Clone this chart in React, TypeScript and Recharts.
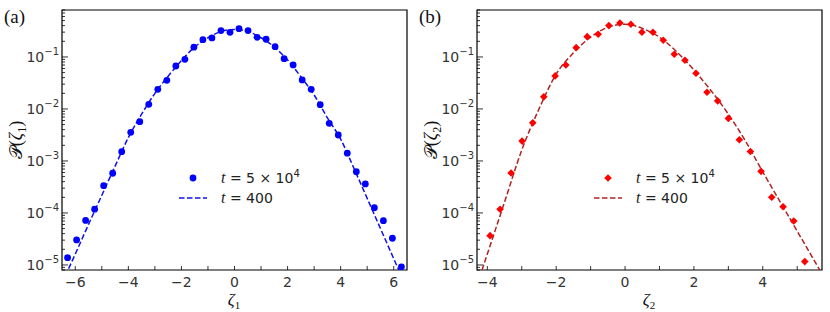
import React from "react";
import {
  ComposedChart,
  Scatter,
  Line,
  XAxis,
  YAxis,
  ReferenceArea,
  Legend,
} from "recharts";

// panel (a): zeta_1
const zeta1Points = [
  -6.29, -5.95, -5.61, -5.27, -4.93, -4.59, -4.25, -3.91, -3.57, -3.23, -2.89,
  -2.55, -2.21, -1.87, -1.53, -1.19, -0.85, -0.51, -0.17, 0.17, 0.51, 0.85,
  1.19, 1.53, 1.87, 2.21, 2.55, 2.89, 3.23, 3.57, 3.91, 4.25, 4.59, 4.93, 5.27,
  5.61, 5.95, 6.29,
];
const p1Points = [
  1.38e-5, 3.03e-5, 7.2e-5, 1.18e-4, 3.35e-4, 5.8e-4, 1.51e-3, 3.56e-3, 5.7e-3,
  1.23e-2, 2.39e-2, 3.56e-2, 6.7e-2, 9.0e-2, 0.154, 0.215, 0.232, 0.321, 0.298,
  0.35, 0.321, 0.239, 0.219, 0.158, 0.0927, 0.0702, 0.0361, 0.0239, 0.0121,
  5.3e-3, 3.16e-3, 1.41e-3, 6.2e-4, 3.61e-4, 1.26e-4, 7.1e-5, 3.26e-5, 9.2e-6,
];
const zeta1Line = [
  -6.5, -6, -5.5, -5, -4.5, -4, -3.5, -3, -2.5, -2, -1.5, -1, -0.5, 0, 0.5, 1,
  1.5, 2, 2.5, 3, 3.5, 4, 4.5, 5, 5.5, 6, 6.5,
];
const p1Line = [
  4.47e-6, 1.62e-5, 6.03e-5, 2.19e-4, 7.94e-4, 2.82e-3, 7.94e-3, 0.02, 0.0427,
  0.0851, 0.155, 0.234, 0.309, 0.339, 0.309, 0.234, 0.155, 0.0871, 0.0417,
  0.0186, 6.76e-3, 2.63e-3, 7.24e-4, 1.91e-4, 5.01e-5, 1.32e-5, 3.47e-6,
];

// panel (b): zeta_2
const zeta2Points = [
  -3.92, -3.63, -3.31, -2.99, -2.68, -2.36, -2.03, -1.72, -1.42, -1.1, -0.78,
  -0.47, -0.15, 0.17, 0.49, 0.81, 1.11, 1.43, 1.74, 2.06, 2.38, 2.69, 3.0, 3.32,
  3.64, 3.95, 4.26, 4.59, 4.9, 5.22,
];
const p2Points = [
  3.66e-5, 1.18e-4, 5.86e-4, 2.41e-3, 5.41e-3, 0.0171, 0.0432, 0.0701, 0.151,
  0.246, 0.273, 0.401, 0.45, 0.425, 0.298, 0.298, 0.209, 0.113, 0.0865, 0.0487,
  0.021, 0.0143, 6.58e-3, 2.55e-3, 1.52e-3, 6.31e-4, 2.0e-4, 1.32e-4, 7.0e-5,
  1.16e-5,
];
const zeta2Line = [
  -4.3, -4, -3.5, -3, -2.5, -2, -1.5, -1, -0.5, 0, 0.5, 1, 1.5, 2, 2.5, 3, 3.5,
  4, 4.5, 5, 5.5, 5.8,
];
const p2Line = [
  4.07e-6, 1.62e-5, 1.62e-4, 1.62e-3, 0.01, 0.0468, 0.12, 0.24, 0.372, 0.427,
  0.355, 0.24, 0.126, 0.0562, 0.0224, 7.94e-3, 2.4e-3, 6.17e-4, 1.66e-4,
  4.47e-5, 1.2e-5, 5.37e-6,
];

const xTicks1 = [-6, -5, -4, -3, -2, -1, 0, 1, 2, 3, 4, 5, 6];
const xTicks2 = [-4, -3, -2, -1, 0, 1, 2, 3, 4, 5];
const yDecades = [1e-5, 1e-4, 1e-3, 1e-2, 1e-1];
const yMinorSteps = [2, 3, 4, 5, 6, 7, 8, 9];
const yDomain: [number, number] = [8e-6, 0.8];

const zip = (xs: number[], ys: number[]) => xs.map((x, i) => ({ x, y: ys[i] }));

const yTicks = [
  8e-6,
  9e-6,
  ...yDecades.flatMap((d) => [d, ...yMinorSteps.map((m) => m * d)]),
].filter((v) => v >= yDomain[0] && v <= yDomain[1] * 1.0001);

const tickFont = "'DejaVu Sans', sans-serif";
const mathFont = "'Liberation Serif', 'DejaVu Serif', serif";

function YTick({ x, y, payload }: any) {
  const e = Math.log10(payload.value);
  const major = Math.abs(e - Math.round(e)) < 1e-6;
  return (
    <g>
      <line x1={x} x2={x + (major ? 6 : 3)} y1={y} y2={y} stroke="#000" strokeWidth={0.8} />
      {major && (
        <text x={x - 3} y={y} dy={5} textAnchor="end" fontSize={14} fill="#333" fontFamily={tickFont}>
          10
          <tspan dy={-7} fontSize={10}>
            {"\u2212" + -Math.round(e)}
          </tspan>
        </text>
      )}
    </g>
  );
}

function XTick({ x, y, payload }: any) {
  const v = payload.value;
  const labelled = v % 2 === 0;
  return (
    <g>
      <line x1={x} x2={x} y1={y} y2={y - 4} stroke="#000" strokeWidth={0.8} />
      {labelled && (
        <text x={x} y={y + 17} textAnchor="middle" fontSize={14} fill="#333" fontFamily={tickFont}>
          {v < 0 ? "\u2212" + -v : String(v)}
        </text>
      )}
    </g>
  );
}

function Marker({ cx, cy, kind, color }: any) {
  if (kind === "circle") return <circle cx={cx} cy={cy} r={3.4} fill={color} />;
  const h = 3.8;
  return (
    <polygon
      points={`${cx},${cy - h} ${cx + h},${cy} ${cx},${cy + h} ${cx - h},${cy}`}
      fill={color}
    />
  );
}

function LegendBox({ kind, color, lineColor }: any) {
  const row: React.CSSProperties = { display: "flex", alignItems: "center", height: 20 };
  return (
    <div style={{ fontFamily: tickFont, fontSize: 14, color: "#222", whiteSpace: "nowrap" }}>
      <div style={row}>
        <svg width={28} height={20}>
          <Marker cx={14} cy={10} kind={kind} color={color} />
        </svg>
        <span style={{ marginLeft: 14 }}>
          <i style={{ fontFamily: mathFont, fontSize: 16 }}>t</i> = 5 × 10
          <span style={{ fontSize: 10, position: "relative", top: -6 }}>4</span>
        </span>
      </div>
      <div style={row}>
        <svg width={28} height={20}>
          <line x1={0} x2={28} y1={10} y2={10} stroke={lineColor} strokeWidth={1.5} strokeDasharray="5.5 2.5" />
        </svg>
        <span style={{ marginLeft: 14 }}>
          <i style={{ fontFamily: mathFont, fontSize: 16 }}>t</i> = 400
        </span>
      </div>
    </div>
  );
}

function Panel({ points, line, xDomain, xTicks, kind, color, lineColor, tag, sub, left }: any) {
  return (
    <div style={{ position: "absolute", left, top: 0, width: 415, height: 312 }}>
      <ComposedChart width={415} height={312} margin={{ top: 10, right: 8, bottom: 12, left: 12 }}>
        <XAxis
          type="number"
          dataKey="x"
          domain={xDomain}
          allowDataOverflow
          ticks={xTicks}
          interval={0}
          axisLine={false}
          tickLine={false}
          tickSize={0}
          tickMargin={0}
          height={30}
          tick={<XTick />}
        />
        <YAxis
          type="number"
          dataKey="y"
          scale="log"
          domain={yDomain}
          allowDataOverflow
          ticks={yTicks}
          interval={0}
          axisLine={false}
          tickLine={false}
          tickSize={0}
          tickMargin={0}
          width={50}
          tick={<YTick />}
        />
        <ReferenceArea
          x1={xDomain[0]}
          x2={xDomain[1]}
          y1={yDomain[0]}
          y2={yDomain[1]}
          fill="none"
          stroke="#000"
          strokeWidth={1.2}
          ifOverflow="visible"
        />
        <Line
          data={line}
          dataKey="y"
          type="monotone"
          stroke={lineColor}
          strokeWidth={1.5}
          strokeDasharray="5.5 2.5"
          dot={false}
          activeDot={false}
          isAnimationActive={false}
        />
        <Scatter
          data={points}
          dataKey="y"
          fill={color}
          shape={(p: any) => <Marker cx={p.cx} cy={p.cy} kind={kind} color={color} />}
          isAnimationActive={false}
        />
        <Legend
          layout="vertical"
          align="center"
          verticalAlign="middle"
          wrapperStyle={{ position: "absolute", left: 179, top: 168, width: 160 }}
          content={() => <LegendBox kind={kind} color={color} lineColor={lineColor} />}
        />
      </ComposedChart>
      <div style={{ position: "absolute", left: 4, top: 6, fontFamily: mathFont, fontSize: 19, color: "#111" }}>
        {tag}
      </div>
      <div
        style={{
          position: "absolute",
          left: 18,
          top: 140,
          transform: "translate(-50%, -50%) rotate(-90deg)",
          fontFamily: mathFont,
          fontSize: 18,
          color: "#111",
          whiteSpace: "nowrap",
        }}
      >
        𝒫(<i>ζ</i>
        <sub style={{ fontSize: 12 }}>{sub}</sub>)
      </div>
      <div
        style={{
          position: "absolute",
          left: 234,
          top: 291,
          lineHeight: "18px",
          transform: "translateX(-50%)",
          fontFamily: mathFont,
          fontSize: 17,
          color: "#111",
          whiteSpace: "nowrap",
        }}
      >
        <i>ζ</i>
        <sub style={{ fontSize: 11, lineHeight: 0 }}>{sub}</sub>
      </div>
    </div>
  );
}

export default function App() {
  return (
    <div style={{ position: "absolute", left: 0, top: 0, width: 830, height: 312, background: "#fff", overflow: "hidden" }}>
      <Panel
        points={zip(zeta1Points, p1Points)}
        line={zip(zeta1Line, p1Line)}
        xDomain={[-6.5, 6.5]}
        xTicks={xTicks1}
        kind="circle"
        color="#0000ff"
        lineColor="#1010ee"
        tag="(a)"
        sub="1"
        left={0}
      />
      <Panel
        points={zip(zeta2Points, p2Points)}
        line={zip(zeta2Line, p2Line)}
        xDomain={[-4.3, 5.72]}
        xTicks={xTicks2}
        kind="diamond"
        color="#ff0000"
        lineColor="#b22222"
        tag="(b)"
        sub="2"
        left={415}
      />
    </div>
  );
}
